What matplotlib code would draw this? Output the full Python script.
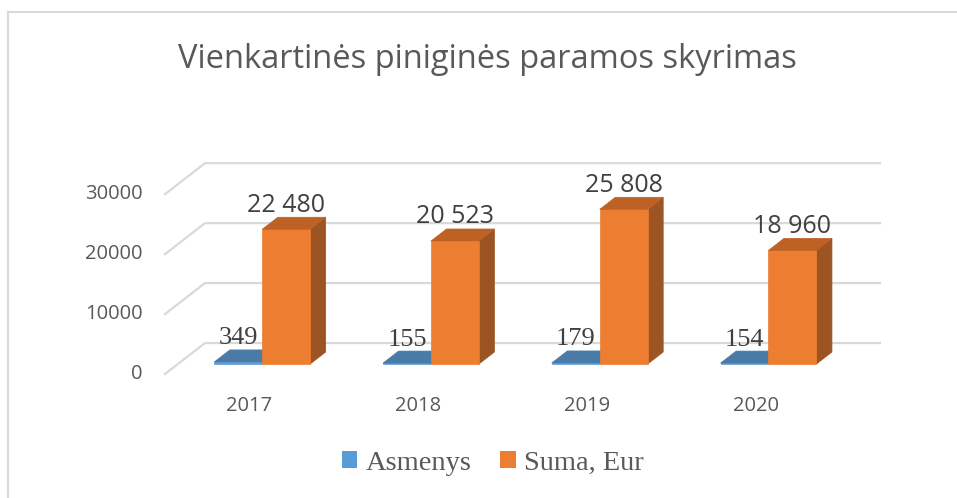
import matplotlib
matplotlib.use("Agg")
import matplotlib.pyplot as plt
from matplotlib.patches import Polygon
from matplotlib.lines import Line2D

years = ["2017", "2018", "2019", "2020"]
asmenys = [349, 155, 179, 154]
suma = [22480, 20523, 25808, 18960]
y_ticks = [0, 10000, 20000, 30000]

# oblique "3d" look: depth offsets in data units
DX = 0.237      # category units for full depth
DY = 5167       # value units for full depth
F0, F1 = 0.32, 0.71   # bar front / back depth
BW = 0.284      # bar width (category units)

GRID = "#d9d9d9"
TXT = "#595959"
SANS = ["Open Sans", "DejaVu Sans"]
SERIF = ["Liberation Serif", "DejaVu Serif"]


def bar3d(ax, x0, x1, v, front, top, side):
    f = [(x0 + F0 * DX, F0 * DY), (x1 + F0 * DX, F0 * DY),
         (x1 + F0 * DX, v + F0 * DY), (x0 + F0 * DX, v + F0 * DY)]
    t = [(x0 + F0 * DX, v + F0 * DY), (x1 + F0 * DX, v + F0 * DY),
         (x1 + F1 * DX, v + F1 * DY), (x0 + F1 * DX, v + F1 * DY)]
    s = [(x1 + F0 * DX, F0 * DY), (x1 + F1 * DX, F1 * DY),
         (x1 + F1 * DX, v + F1 * DY), (x1 + F0 * DX, v + F0 * DY)]
    for pts, c in ((s, side), (f, front), (t, top)):
        ax.add_patch(Polygon(pts, closed=True, facecolor=c, edgecolor=c, lw=0.5, zorder=3))


def main():
    fig = plt.figure(figsize=(9.57, 4.98), dpi=100)
    W, H = 957, 498

    # chart border (left and top only visible)
    fig.add_artist(Line2D([8 / W, 8 / W], [0, 1 - 12 / H], color=GRID, lw=1.5))
    fig.add_artist(Line2D([8 / W, 1], [1 - 12 / H, 1 - 12 / H], color=GRID, lw=1.5))

    ax = fig.add_axes([165 / W, 124 / H, 715 / W, 212 / H])
    ax.set_xlim(-0.5, 3.5 + DX)
    ax.set_ylim(0, 30000 + DY + 200)
    ax.axis("off")

    for v in y_ticks:
        ax.plot([-0.5, -0.5 + DX, 3.5 + DX], [v, v + DY, v + DY],
                color=GRID, lw=1.6, zorder=1, clip_on=False)
        ax.annotate(str(v), (-0.5, v), xytext=(-16, 0), textcoords="offset points",
                    ha="right", va="center", fontsize=14.5, color=TXT,
                    family=SANS, annotation_clip=False)

    for i, yr in enumerate(years):
        bar3d(ax, i - BW, i, asmenys[i], "#5b9bd5", "#4a7aa6", "#3f6e98")
        bar3d(ax, i, i + BW, suma[i], "#ed7d31", "#bd6224", "#9c5522")

        ax.annotate(str(asmenys[i]), (i - BW / 2 + F0 * DX, asmenys[i] + F1 * DY),
                    xytext=(0, 4), textcoords="offset points", ha="center",
                    va="baseline", fontsize=19, color="#404040", family=SERIF,
                    annotation_clip=False)
        ax.annotate(f"{suma[i]:,}".replace(",", " "),
                    (i + BW / 2 + F0 * DX, suma[i] + F1 * DY),
                    xytext=(0, 4), textcoords="offset points", ha="center",
                    va="baseline", fontsize=18, color="#404040", family=SANS,
                    annotation_clip=False)
        ax.annotate(yr, (i, 0), xytext=(0, -23), textcoords="offset points",
                    ha="center", va="center", fontsize=14.5, color=TXT,
                    family=SANS, annotation_clip=False)

    fig.text(487 / W, 1 - 60 / H, "Vienkartinės piniginės paramos skyrimas",
             ha="center", va="center", fontsize=23.5, color=TXT, family=SANS)

    h = [Polygon([(0, 0)], facecolor="#5b9bd5"), Polygon([(0, 0)], facecolor="#ed7d31")]
    fig.legend(h, ["Asmenys", "Suma, Eur"], loc="center", bbox_to_anchor=(493 / W, 1 - 463 / H),
               ncol=2, frameon=False, handlelength=0.55, handleheight=0.55,
               handletextpad=0.3, columnspacing=1.0,
               prop={"family": SERIF, "size": 20.5}, labelcolor=TXT)

    fig.savefig("out.png", dpi=100)


if __name__ == "__main__":
    main()
